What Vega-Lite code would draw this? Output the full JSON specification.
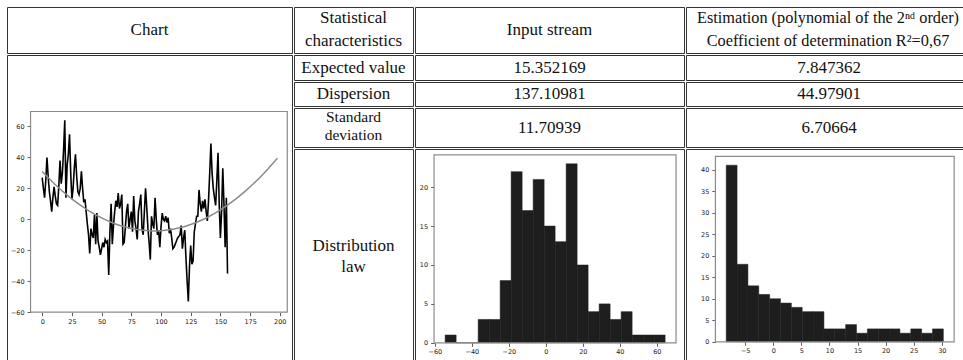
{
"$schema": "https://vega.github.io/schema/vega-lite/v6.json",
"padding": {"left": 6, "top": 6, "right": 0, "bottom": 0},
"spacing": 0,
"config": {
  "view": {"stroke": "#333333", "strokeWidth": 1},
  "concat": {"spacing": 0},
  "text": {"font": "Liberation Serif", "fontSize": 17, "color": "#111111"},
  "axis": {"domain": false, "grid": false, "ticks": true, "tickSize": 3.5, "tickWidth": 0.8, "tickColor": "#333333", "labelFont": "DejaVu Sans", "labelFontSize": 6.5, "labelColor": "#222222", "labelPadding": 2.5, "labelFlush": false, "labelOverlap": false}
},
"hconcat": [
  {"spacing": 0, "vconcat": [
    {"width": 285, "height": 46, "data": {"values": [{"t": "Chart"}]}, "mark": {"type": "text", "font": "Liberation Serif"}, "encoding": {"text": {"field": "t"}, "x": {"datum": 0.5, "type": "quantitative", "scale": {"domain": [0, 1]}, "axis": null}, "y": {"datum": 0.5, "type": "quantitative", "scale": {"domain": [0, 1]}, "axis": null}}},
    {"width": 285, "height": 311, "layer": [
      {"data": {"values": [{}]}, "mark": {"type": "rect", "fill": null, "stroke": "#8c8c8c", "strokeWidth": 1.2},
       "encoding": {
         "x": {"datum": -9.8, "type": "quantitative", "scale": {"domain": [-29.63, 210.27], "nice": false, "zero": false}, "axis": {"values": [0,25,50,75,100,125,150,175,200], "offset": -53.8, "title": null}},
         "x2": {"datum": 206.3},
         "y": {"datum": -60, "type": "quantitative", "scale": {"domain": [-94.77, 106.2], "nice": false, "zero": false}, "axis": {"values": [-60,-40,-20,0,20,40,60], "offset": -23.6, "title": null, "labelPadding": 3}},
         "y2": {"datum": 69.7}}},
      {"data": {"values": [
        {"x":0,"y":27},{"x":1,"y":20},{"x":2,"y":14},{"x":3,"y":25},{"x":4,"y":40},{"x":5,"y":28},{"x":6,"y":18},{"x":7,"y":12},{"x":8,"y":5},{"x":9,"y":14},
        {"x":10,"y":21},{"x":11,"y":15},{"x":12,"y":10},{"x":13,"y":9},{"x":14,"y":22},{"x":15,"y":38},{"x":16,"y":23},{"x":17,"y":30},{"x":18,"y":45},{"x":19,"y":64},
        {"x":20,"y":14},{"x":21,"y":35},{"x":22,"y":42},{"x":23,"y":55},{"x":24,"y":30},{"x":25,"y":13},{"x":26,"y":20},{"x":27,"y":33},{"x":28,"y":42},{"x":29,"y":28},
        {"x":30,"y":18},{"x":31,"y":16},{"x":32,"y":20},{"x":33,"y":31},{"x":34,"y":20},{"x":35,"y":11},{"x":36,"y":13},{"x":37,"y":5},{"x":38,"y":-3},{"x":39,"y":-10},
        {"x":40,"y":-22},{"x":41,"y":-6},{"x":42,"y":-10},{"x":43,"y":-12},{"x":44,"y":3},{"x":45,"y":-16},{"x":46,"y":4},{"x":47,"y":-14},{"x":48,"y":-18},{"x":49,"y":-23},
        {"x":50,"y":-19},{"x":51,"y":-15},{"x":52,"y":-18},{"x":53,"y":-13},{"x":54,"y":-15},{"x":55,"y":-14},{"x":56,"y":-36},{"x":57,"y":-8},{"x":58,"y":10},{"x":59,"y":-16},
        {"x":60,"y":-4},{"x":61,"y":5},{"x":62,"y":12},{"x":63,"y":8},{"x":64,"y":17},{"x":65,"y":7},{"x":66,"y":10},{"x":67,"y":16},{"x":68,"y":-16},{"x":69,"y":-15},
        {"x":70,"y":-5},{"x":71,"y":5},{"x":72,"y":10},{"x":73,"y":-6},{"x":74,"y":0},{"x":75,"y":5},{"x":76,"y":-8},{"x":77,"y":15},{"x":78,"y":-1},{"x":79,"y":-6},
        {"x":80,"y":-13},{"x":81,"y":5},{"x":82,"y":10},{"x":83,"y":16},{"x":84,"y":-6},{"x":85,"y":-10},{"x":86,"y":5},{"x":87,"y":20},{"x":88,"y":8},{"x":89,"y":-6},
        {"x":90,"y":-15},{"x":91,"y":-26},{"x":92,"y":2},{"x":93,"y":-3},{"x":94,"y":-6},{"x":95,"y":14},{"x":96,"y":0},{"x":97,"y":-10},{"x":98,"y":-7},{"x":99,"y":-18},
        {"x":100,"y":-5},{"x":101,"y":4},{"x":102,"y":0},{"x":103,"y":-1},{"x":104,"y":2},{"x":105,"y":-2},{"x":106,"y":1},{"x":107,"y":-9},{"x":108,"y":-6},{"x":109,"y":-12},
        {"x":110,"y":-19},{"x":111,"y":-18},{"x":112,"y":-16},{"x":113,"y":-14},{"x":114,"y":-12},{"x":115,"y":-11},{"x":116,"y":-10},{"x":117,"y":-4},{"x":118,"y":-19},{"x":119,"y":-12},
        {"x":120,"y":-7},{"x":121,"y":-25},{"x":122,"y":-40},{"x":123,"y":-53},{"x":124,"y":-30},{"x":125,"y":-17},{"x":126,"y":-29},{"x":127,"y":-27},{"x":128,"y":-8},{"x":129,"y":-3},
        {"x":130,"y":2},{"x":131,"y":2},{"x":132,"y":19},{"x":133,"y":10},{"x":134,"y":5},{"x":135,"y":12},{"x":136,"y":7},{"x":137,"y":13},{"x":138,"y":5},{"x":139,"y":-1},
        {"x":140,"y":12},{"x":141,"y":30},{"x":142,"y":49},{"x":143,"y":30},{"x":144,"y":20},{"x":145,"y":14},{"x":146,"y":9},{"x":147,"y":25},{"x":148,"y":43},{"x":149,"y":10},
        {"x":150,"y":-12},{"x":151,"y":5},{"x":152,"y":33},{"x":153,"y":10},{"x":154,"y":-18},{"x":155,"y":14},{"x":156,"y":-35}
       ]},
       "mark": {"type": "line", "color": "#000000", "strokeWidth": 1.6},
       "encoding": {
         "x": {"field": "x", "type": "quantitative", "scale": {"domain": [-29.63, 210.27], "nice": false, "zero": false}, "axis": {"values": [0,25,50,75,100,125,150,175,200], "offset": -53.8, "title": null}},
         "y": {"field": "y", "type": "quantitative", "scale": {"domain": [-94.77, 106.2], "nice": false, "zero": false}, "axis": {"values": [-60,-40,-20,0,20,40,60], "offset": -23.6, "title": null, "labelPadding": 3}}}},
      {"data": {"values": [
        {"x":0,"y":30.9},{"x":10,"y":23.2},{"x":20,"y":16.3},{"x":30,"y":10.3},{"x":40,"y":5.2},{"x":50,"y":0.9},{"x":60,"y":-2.5},{"x":70,"y":-5.0},{"x":80,"y":-6.6},{"x":90,"y":-7.4},{"x":94,"y":-7.5},
        {"x":100,"y":-7.3},{"x":110,"y":-6.4},{"x":120,"y":-4.6},{"x":130,"y":-1.9},{"x":140,"y":1.7},{"x":150,"y":6.1},{"x":160,"y":11.4},{"x":170,"y":17.6},{"x":180,"y":24.6},{"x":190,"y":32.6},{"x":198,"y":39.5}
       ]},
       "mark": {"type": "line", "color": "#8a8a8a", "strokeWidth": 1.5, "interpolate": "monotone"},
       "encoding": {
         "x": {"field": "x", "type": "quantitative", "scale": {"domain": [-29.63, 210.27], "nice": false, "zero": false}, "axis": {"values": [0,25,50,75,100,125,150,175,200], "offset": -53.8, "title": null}},
         "y": {"field": "y", "type": "quantitative", "scale": {"domain": [-94.77, 106.2], "nice": false, "zero": false}, "axis": {"values": [-60,-40,-20,0,20,40,60], "offset": -23.6, "title": null, "labelPadding": 3}}}}
    ]}
  ]},
  {"spacing": 0, "vconcat": [
    {"spacing": 0, "hconcat": [
      {"width": 119, "height": 46, "data": {"values": [{"t": "Statistical\ncharacteristics"}]}, "mark": {"type": "text", "font": "Liberation Serif", "lineBreak": "\n", "lineHeight": 23, "dy": -12.5}, "encoding": {"text": {"field": "t"}, "x": {"datum": 0.5, "type": "quantitative", "scale": {"domain": [0, 1]}, "axis": null}, "y": {"datum": 0.5, "type": "quantitative", "scale": {"domain": [0, 1]}, "axis": null}}},
      {"width": 269, "height": 46, "data": {"values": [{"t": "Input stream"}]}, "mark": {"type": "text", "font": "Liberation Serif"}, "encoding": {"text": {"field": "t"}, "x": {"datum": 0.5, "type": "quantitative", "scale": {"domain": [0, 1]}, "axis": null}, "y": {"datum": 0.5, "type": "quantitative", "scale": {"domain": [0, 1]}, "axis": null}}},
      {"width": 286, "height": 46, "data": {"values": [{"t": "Estimation (polynomial of the 2ⁿᵈ order)\nCoefficient of determination R²=0,67"}]}, "mark": {"type": "text", "font": "Liberation Serif", "fontSize": 16.3, "lineBreak": "\n", "lineHeight": 23, "dy": -12.5, "dx": -1}, "encoding": {"text": {"field": "t"}, "x": {"datum": 0.5, "type": "quantitative", "scale": {"domain": [0, 1]}, "axis": null}, "y": {"datum": 0.5, "type": "quantitative", "scale": {"domain": [0, 1]}, "axis": null}}}
    ]},
    {"spacing": 0, "hconcat": [
      {"width": 119, "height": 25, "data": {"values": [{"t": "Expected value"}]}, "mark": {"type": "text", "font": "Liberation Serif"}, "encoding": {"text": {"field": "t"}, "x": {"datum": 0.5, "type": "quantitative", "scale": {"domain": [0, 1]}, "axis": null}, "y": {"datum": 0.5, "type": "quantitative", "scale": {"domain": [0, 1]}, "axis": null}}},
      {"width": 269, "height": 25, "data": {"values": [{"t": "15.352169"}]}, "mark": {"type": "text", "font": "Liberation Serif"}, "encoding": {"text": {"field": "t"}, "x": {"datum": 0.5, "type": "quantitative", "scale": {"domain": [0, 1]}, "axis": null}, "y": {"datum": 0.5, "type": "quantitative", "scale": {"domain": [0, 1]}, "axis": null}}},
      {"width": 286, "height": 25, "data": {"values": [{"t": "7.847362"}]}, "mark": {"type": "text", "font": "Liberation Serif"}, "encoding": {"text": {"field": "t"}, "x": {"datum": 0.5, "type": "quantitative", "scale": {"domain": [0, 1]}, "axis": null}, "y": {"datum": 0.5, "type": "quantitative", "scale": {"domain": [0, 1]}, "axis": null}}}
    ]},
    {"spacing": 0, "hconcat": [
      {"width": 119, "height": 24, "data": {"values": [{"t": "Dispersion"}]}, "mark": {"type": "text", "font": "Liberation Serif"}, "encoding": {"text": {"field": "t"}, "x": {"datum": 0.5, "type": "quantitative", "scale": {"domain": [0, 1]}, "axis": null}, "y": {"datum": 0.5, "type": "quantitative", "scale": {"domain": [0, 1]}, "axis": null}}},
      {"width": 269, "height": 24, "data": {"values": [{"t": "137.10981"}]}, "mark": {"type": "text", "font": "Liberation Serif"}, "encoding": {"text": {"field": "t"}, "x": {"datum": 0.5, "type": "quantitative", "scale": {"domain": [0, 1]}, "axis": null}, "y": {"datum": 0.5, "type": "quantitative", "scale": {"domain": [0, 1]}, "axis": null}}},
      {"width": 286, "height": 24, "data": {"values": [{"t": "44.97901"}]}, "mark": {"type": "text", "font": "Liberation Serif"}, "encoding": {"text": {"field": "t"}, "x": {"datum": 0.5, "type": "quantitative", "scale": {"domain": [0, 1]}, "axis": null}, "y": {"datum": 0.5, "type": "quantitative", "scale": {"domain": [0, 1]}, "axis": null}}}
    ]},
    {"spacing": 0, "hconcat": [
      {"width": 119, "height": 39, "data": {"values": [{"t": "Standard\ndeviation"}]}, "mark": {"type": "text", "font": "Liberation Serif", "fontSize": 15.5, "lineBreak": "\n", "lineHeight": 18, "dy": -10.5}, "encoding": {"text": {"field": "t"}, "x": {"datum": 0.5, "type": "quantitative", "scale": {"domain": [0, 1]}, "axis": null}, "y": {"datum": 0.5, "type": "quantitative", "scale": {"domain": [0, 1]}, "axis": null}}},
      {"width": 269, "height": 39, "data": {"values": [{"t": "11.70939"}]}, "mark": {"type": "text", "font": "Liberation Serif"}, "encoding": {"text": {"field": "t"}, "x": {"datum": 0.5, "type": "quantitative", "scale": {"domain": [0, 1]}, "axis": null}, "y": {"datum": 0.5, "type": "quantitative", "scale": {"domain": [0, 1]}, "axis": null}}},
      {"width": 286, "height": 39, "data": {"values": [{"t": "6.70664"}]}, "mark": {"type": "text", "font": "Liberation Serif"}, "encoding": {"text": {"field": "t"}, "x": {"datum": 0.5, "type": "quantitative", "scale": {"domain": [0, 1]}, "axis": null}, "y": {"datum": 0.5, "type": "quantitative", "scale": {"domain": [0, 1]}, "axis": null}}}
    ]},
    {"spacing": 0, "hconcat": [
      {"width": 119, "height": 220, "data": {"values": [{"t": "Distribution\nlaw"}]}, "mark": {"type": "text", "font": "Liberation Serif", "lineBreak": "\n", "lineHeight": 21, "dy": -13.5}, "encoding": {"text": {"field": "t"}, "x": {"datum": 0.5, "type": "quantitative", "scale": {"domain": [0, 1]}, "axis": null}, "y": {"datum": 0.5, "type": "quantitative", "scale": {"domain": [0, 1]}, "axis": null}}},
      {"width": 269, "height": 220, "layer": [
        {"data": {"values": [
          {"b0":-54.4,"b1":-48.455,"n":1},{"b0":-48.455,"b1":-42.51,"n":0},{"b0":-42.51,"b1":-36.565,"n":0},{"b0":-36.565,"b1":-30.62,"n":3},{"b0":-30.62,"b1":-24.675,"n":3},
          {"b0":-24.675,"b1":-18.73,"n":8},{"b0":-18.73,"b1":-12.785,"n":22},{"b0":-12.785,"b1":-6.84,"n":17},{"b0":-6.84,"b1":-0.895,"n":21},{"b0":-0.895,"b1":5.05,"n":15},
          {"b0":5.05,"b1":10.995,"n":13},{"b0":10.995,"b1":16.94,"n":23},{"b0":16.94,"b1":22.885,"n":10},{"b0":22.885,"b1":28.83,"n":4},{"b0":28.83,"b1":34.775,"n":5},
          {"b0":34.775,"b1":40.72,"n":3},{"b0":40.72,"b1":46.665,"n":4},{"b0":46.665,"b1":52.61,"n":1},{"b0":52.61,"b1":58.555,"n":1},{"b0":58.555,"b1":64.5,"n":1}
         ]},
         "mark": {"type": "rect", "fill": "#1e1e1e", "stroke": "#1e1e1e", "strokeWidth": 0.5},
         "encoding": {
           "x": {"field": "b0", "type": "quantitative", "scale": {"domain": [-70.7, 74.7], "nice": false, "zero": false}, "axis": {"values": [-60,-40,-20,0,20,40,60], "offset": -26.2, "title": null}},
           "x2": {"field": "b1"},
           "y": {"field": "n", "type": "quantitative", "scale": {"domain": [-3.37, 24.91], "nice": false, "zero": false}, "axis": {"values": [0,5,10,15,20], "offset": -19.1, "title": null, "labelPadding": 3}},
           "y2": {"datum": 0}}},
        {"data": {"values": [{}]}, "mark": {"type": "rect", "fill": null, "stroke": "#8c8c8c", "strokeWidth": 1.2},
         "encoding": {
           "x": {"datum": -60.4, "type": "quantitative", "scale": {"domain": [-70.7, 74.7], "nice": false, "zero": false}, "axis": {"values": [-60,-40,-20,0,20,40,60], "offset": -26.2, "title": null}},
           "x2": {"datum": 70.4},
           "y": {"datum": 0, "type": "quantitative", "scale": {"domain": [-3.37, 24.91], "nice": false, "zero": false}, "axis": {"values": [0,5,10,15,20], "offset": -19.1, "title": null, "labelPadding": 3}},
           "y2": {"datum": 24.15}}}
      ]},
      {"width": 286, "height": 220, "layer": [
        {"data": {"values": [
          {"b0":-8.38,"b1":-6.447,"n":41},{"b0":-6.447,"b1":-4.514,"n":18},{"b0":-4.514,"b1":-2.581,"n":13},{"b0":-2.581,"b1":-0.648,"n":11},{"b0":-0.648,"b1":1.285,"n":10},
          {"b0":1.285,"b1":3.218,"n":9},{"b0":3.218,"b1":5.151,"n":8},{"b0":5.151,"b1":7.084,"n":7},{"b0":7.084,"b1":9.017,"n":7},{"b0":9.017,"b1":10.95,"n":3},
          {"b0":10.95,"b1":12.883,"n":3},{"b0":12.883,"b1":14.816,"n":4},{"b0":14.816,"b1":16.749,"n":2},{"b0":16.749,"b1":18.682,"n":3},{"b0":18.682,"b1":20.615,"n":3},
          {"b0":20.615,"b1":22.548,"n":3},{"b0":22.548,"b1":24.481,"n":2},{"b0":24.481,"b1":26.414,"n":3},{"b0":26.414,"b1":28.347,"n":2},{"b0":28.347,"b1":30.28,"n":3}
         ]},
         "mark": {"type": "rect", "fill": "#1e1e1e", "stroke": "#1e1e1e", "strokeWidth": 0.5},
         "encoding": {
           "x": {"field": "b0", "type": "quantitative", "scale": {"domain": [-15.54, 35.38], "nice": false, "zero": false}, "axis": {"values": [-5,0,5,10,15,20,25,30], "offset": -27.2, "title": null}},
           "x2": {"field": "b1"},
           "y": {"field": "n", "type": "quantitative", "scale": {"domain": [-6.31, 44.76], "nice": false, "zero": false}, "axis": {"values": [0,5,10,15,20,25,30,35,40], "offset": -29.4, "title": null, "labelPadding": 3}},
           "y2": {"datum": 0}}},
        {"data": {"values": [{}]}, "mark": {"type": "rect", "fill": null, "stroke": "#8c8c8c", "strokeWidth": 1.2},
         "encoding": {
           "x": {"datum": -10.3, "type": "quantitative", "scale": {"domain": [-15.54, 35.38], "nice": false, "zero": false}, "axis": {"values": [-5,0,5,10,15,20,25,30], "offset": -27.2, "title": null}},
           "x2": {"datum": 32.2},
           "y": {"datum": 0, "type": "quantitative", "scale": {"domain": [-6.31, 44.76], "nice": false, "zero": false}, "axis": {"values": [0,5,10,15,20,25,30,35,40], "offset": -29.4, "title": null, "labelPadding": 3}},
           "y2": {"datum": 43.05}}}
      ]}
    ]}
  ]}
]
}
